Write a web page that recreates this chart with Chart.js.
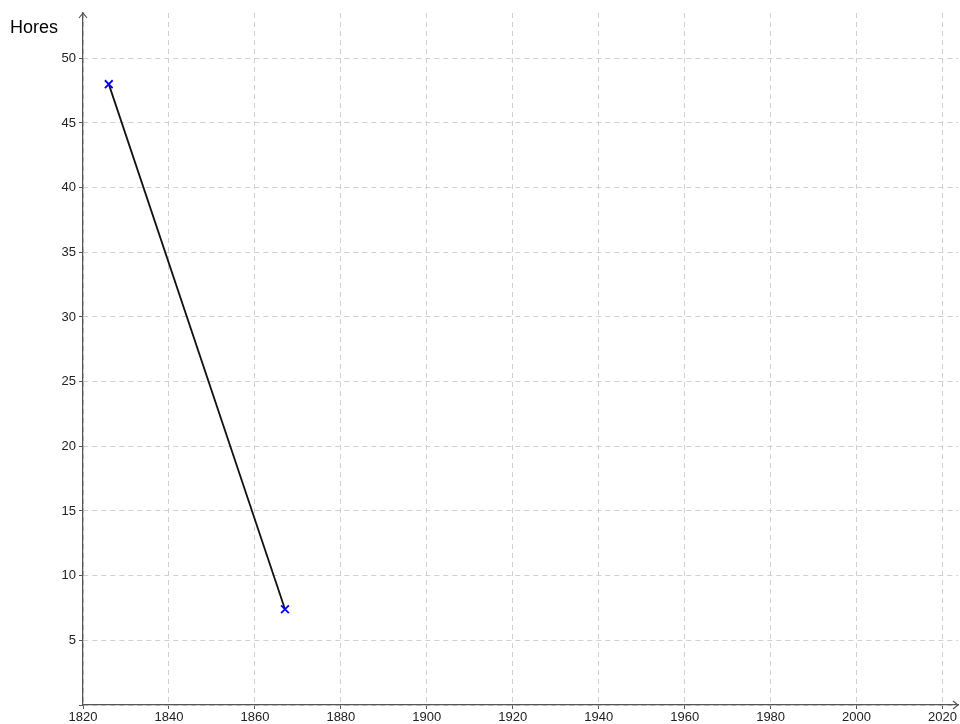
<!DOCTYPE html>
<html>
<head>
<meta charset="utf-8">
<script src="https://cdn.jsdelivr.net/npm/chart.js@4/dist/chart.umd.min.js"></script>
<style>
  html, body { margin: 0; padding: 0; background: #fff; }
  #wrap { width: 960px; height: 724px; }
</style>
</head>
<body>
<div id="wrap"><canvas id="chart"></canvas></div>
<script>
// data
const years = [1826, 1867]
const hours = [48, 7.4]
const yLabel = 'Hores'

const xMin = 1820, xMax = 2023.6
const yMin = 0, yMax = 53.5

const axisColor = '#555555'

var points = []
years.forEach((y, i) => {
    points.push({ x: y, y: hours[i] })
})

// axis arrows and the title at the top left
const arrowsPlugin = {
    id: 'arrows',
    afterDraw(chart) {
        const ctx = chart.ctx
        const a = chart.chartArea
        ctx.save()
        ctx.strokeStyle = axisColor
        ctx.lineWidth = 1.2
        ctx.beginPath()
        ctx.moveTo(a.left - 4, a.top + 5)
        ctx.lineTo(a.left, a.top)
        ctx.lineTo(a.left + 4, a.top + 5)
        ctx.moveTo(a.right - 5, a.bottom - 4)
        ctx.lineTo(a.right, a.bottom)
        ctx.lineTo(a.right - 5, a.bottom + 4)
        ctx.stroke()
        ctx.fillStyle = '#000'
        ctx.font = '18px "Liberation Sans", Arial, sans-serif'
        ctx.textBaseline = 'alphabetic'
        ctx.fillText(yLabel, 10, 33)
        ctx.restore()
    }
}

var config = {
    type: 'scatter',
    data: {
        datasets: [{
            data: points,
            showLine: true,
            borderColor: '#111111',
            borderWidth: 1.8,
            pointStyle: 'crossRot',
            pointRadius: 5.5,
            pointHoverRadius: 5.5,
            pointBorderColor: '#0000ff',
            pointBorderWidth: 1.8
        }]
    },
    options: {
        responsive: true,
        maintainAspectRatio: false,
        animation: false,
        layout: { autoPadding: false, padding: { top: 13, right: 2, left: 0, bottom: 0 } },
        plugins: {
            legend: { display: false },
            tooltip: { enabled: false }
        },
        scales: {
            x: {
                type: 'linear',
                min: xMin,
                max: xMax,
                afterFit: s => { s.height = 19; s.paddingRight = 0; s.paddingLeft = 0 },
                border: { color: axisColor, width: 1.3, dash: [5, 4] },
                grid: { color: '#d0d0d0', tickColor: axisColor, tickLength: 4, tickBorderDash: [] },
                ticks: {
                    stepSize: 20,
                    includeBounds: false,
                    padding: 1,
                    maxRotation: 0,
                    color: '#222',
                    font: { family: '"Liberation Sans", Arial, sans-serif', size: 13 },
                    callback: v => String(v)
                }
            },
            y: {
                type: 'linear',
                min: yMin,
                max: yMax,
                afterFit: s => { s.width = 83 },
                border: { color: axisColor, width: 1.3, dash: [5, 4] },
                grid: { color: '#d0d0d0', tickColor: axisColor, tickLength: 4, tickBorderDash: [] },
                ticks: {
                    stepSize: 5,
                    includeBounds: false,
                    padding: 3,
                    color: '#222',
                    font: { family: '"Liberation Sans", Arial, sans-serif', size: 13 },
                    callback: v => v === 0 ? '' : String(v)
                }
            }
        }
    },
    plugins: [arrowsPlugin]
}

var chart = new Chart(document.getElementById('chart'), config)
</script>
</body>
</html>
